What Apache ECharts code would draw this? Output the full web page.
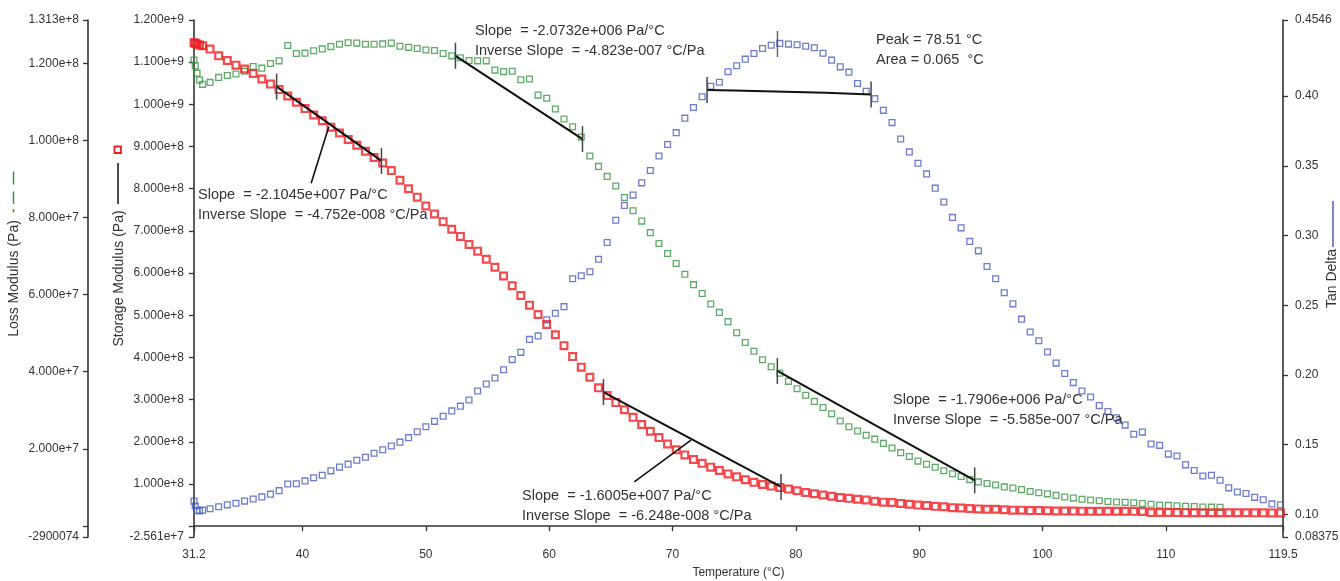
<!DOCTYPE html>
<html>
<head>
<meta charset="utf-8">
<title>DMA</title>
<script src="https://cdn.jsdelivr.net/npm/echarts@6/dist/echarts.min.js"></script>
<style>
  html, body { margin: 0; padding: 0; background: #fff; }
  #chart { width: 1340px; height: 581px; }
</style>
</head>
<body>
<div id="chart"></div>
<script>
// 温度 (°C)
const temps = [
  31.2, 31.3, 31.45, 31.65, 31.9, 32.5, 33.2, 33.9, 34.6, 35.3,
  36.0, 36.7, 37.4, 38.1, 38.8, 39.5, 40.2, 40.9, 41.6, 42.3,
  43.0, 43.7, 44.4, 45.1, 45.8, 46.5, 47.2, 47.9, 48.6, 49.3,
  50.0, 50.7, 51.4, 52.1, 52.8, 53.5, 54.2, 54.9, 55.6, 56.3,
  57.0, 57.7, 58.4, 59.1, 59.8, 60.5, 61.2, 61.9, 62.6, 63.3,
  64.0, 64.7, 65.4, 66.1, 66.8, 67.5, 68.2, 68.9, 69.6, 70.3,
  71.0, 71.7, 72.4, 73.1, 73.8, 74.5, 75.2, 75.9, 76.6, 77.3,
  78.0, 78.7, 79.4, 80.1, 80.8, 81.5, 82.2, 82.9, 83.6, 84.3,
  85.0, 85.7, 86.4, 87.1, 87.8, 88.5, 89.2, 89.9, 90.6, 91.3,
  92.0, 92.7, 93.4, 94.1, 94.8, 95.5, 96.2, 96.9, 97.6, 98.3,
  99.0, 99.7, 100.4, 101.1, 101.8, 102.5, 103.2, 103.9, 104.6, 105.3,
  106.0, 106.7, 107.4, 108.1, 108.8, 109.5, 110.2, 110.9, 111.6, 112.3,
  113.0, 113.7, 114.4, 115.1, 115.8, 116.5, 117.2, 117.9, 118.6, 119.3
];
// 储能模量 Storage Modulus (MPa)
const storageMPa = [
  1146, 1145, 1143, 1141, 1139, 1131, 1115, 1104, 1093, 1084,
  1073, 1060, 1048, 1035, 1020, 1005, 990, 975, 961, 946,
  932, 917, 903, 889, 874, 861, 843, 820, 800, 780,
  759, 740, 722, 704, 687, 668, 652, 633, 614, 593,
  570, 547, 524, 502, 478, 454, 428, 402, 377, 353,
  328, 310, 293, 276, 258, 241, 225, 210, 195, 181,
  169, 158, 149, 140, 132, 124, 117, 110, 104, 99,
  95, 92, 88, 84, 80, 77, 74, 71, 68, 66,
  64, 62, 59, 57, 56, 54, 52, 50, 49, 47,
  46, 44, 43, 42, 41, 40, 40, 39, 38, 38,
  37, 37, 36.5, 36, 36, 35.8, 35.7, 35.6, 35.5, 35.5,
  35.4, 35.3, 35.2, 35, 32.6, 32.4, 32.3, 32.2, 32.1, 32,
  32, 31.9, 31.8, 31.8, 31.7, 31.7, 31.6, 31.6, 31.5, 31.5
];
// 损耗模量 Loss Modulus (MPa)
const lossMPa = [
  120.9, 119.4, 117.5, 115.7, 114.6, 115.1, 116.4, 116.9, 117.3, 118.0,
  119.2, 118.8, 120.0, 120.7, 124.7, 122.6, 122.7, 123.3, 123.8, 124.4,
  125.0, 125.4, 125.3, 125.0, 125.0, 125.1, 125.3, 124.5, 124.2, 123.9,
  123.5, 123.4, 122.6, 122.0, 121.5, 120.8, 120.7, 120.7, 118.3, 117.9,
  118.0, 115.8, 116.0, 111.8, 111.0, 108.2, 105.6, 103.6, 100.9, 96.0,
  93.3, 90.7, 88.2, 85.2, 81.8, 79.1, 76.1, 73.3, 70.7, 68.1,
  65.3, 62.6, 60.3, 57.6, 55.4, 53.0, 50.1, 47.6, 45.3, 43.1,
  41.3, 39.6, 37.5, 35.6, 33.9, 32.3, 30.7, 29.1, 27.2, 25.7,
  24.6, 23.5, 22.5, 21.4, 20.2, 19.0, 18.0, 16.8, 16.0, 15.2,
  14.3, 13.5, 12.8, 12.0, 11.4, 11.0, 10.6, 10.1, 9.8, 9.4,
  8.9, 8.6, 8.3, 7.9, 7.5, 7.2, 6.9, 6.7, 6.5, 6.3,
  6.2, 6.1, 6.0, 5.8, 5.6, 5.4, 5.3, 5.2, 5.1, 5.0,
  4.9, 4.85, 4.8, null, null, null, null, null, null, null
];
// Tan Delta
const tanDelta = [
  0.1095, 0.1060, 0.1030, 0.1025, 0.1030, 0.1040, 0.1055, 0.1068, 0.1080, 0.1095,
  0.1110, 0.1125, 0.1145, 0.1170, 0.1218, 0.1220, 0.1240, 0.1262, 0.1280, 0.1312,
  0.1339, 0.1360, 0.1388, 0.1410, 0.1438, 0.1463, 0.1490, 0.1518, 0.1550, 0.1592,
  0.1628, 0.1667, 0.1704, 0.1742, 0.1776, 0.1820, 0.1885, 0.1935, 0.1978, 0.2037,
  0.2110, 0.2162, 0.2255, 0.2280, 0.2395, 0.2442, 0.2490, 0.2690, 0.2712, 0.2740,
  0.2830, 0.2950, 0.3110, 0.3215, 0.3290, 0.3378, 0.3466, 0.3570, 0.3653, 0.3738,
  0.3842, 0.3918, 0.3995, 0.4070, 0.4100, 0.4175, 0.4218, 0.4265, 0.4306, 0.4342,
  0.4365, 0.4378, 0.4373, 0.4368, 0.4358, 0.4347, 0.4307, 0.4258, 0.4210, 0.4172,
  0.4090, 0.4035, 0.3982, 0.3898, 0.3810, 0.3692, 0.3600, 0.3518, 0.3442, 0.3340,
  0.3240, 0.3130, 0.3055, 0.2958, 0.2890, 0.2778, 0.2690, 0.2590, 0.2510, 0.2400,
  0.2308, 0.2245, 0.2165, 0.2085, 0.2010, 0.1945, 0.1885, 0.1842, 0.1780, 0.1738,
  0.1692, 0.1640, 0.1575, 0.1590, 0.1505, 0.1495, 0.1432, 0.1418, 0.1355, 0.1315,
  0.1275, 0.1280, 0.1245, 0.1190, 0.1160, 0.1150, 0.1122, 0.1105, 0.1075, 0.1068
];

// 坐标轴刻度
const tempTicks = [31.2, 40, 50, 60, 70, 80, 90, 100, 110, 119.5];
const storageTicks = [-2.561e7, 0, 1e8, 2e8, 3e8, 4e8, 5e8, 6e8, 7e8, 8e8, 9e8, 1e9, 1.1e9, 1.2e9];
const storageLabels = [-2.561e7, 1e8, 2e8, 3e8, 4e8, 5e8, 6e8, 7e8, 8e8, 9e8, 1e9, 1.1e9, 1.2e9];
const lossTicks = [-2900074, 0, 2e7, 4e7, 6e7, 8e7, 1e8, 1.2e8, 1.313e8];
const lossLabels = [-2900074, 2e7, 4e7, 6e7, 8e7, 1e8, 1.2e8, 1.313e8];
const tanTicks = [0.08375, 0.10, 0.15, 0.20, 0.25, 0.30, 0.35, 0.40, 0.4546];
const tanTickText = ['0.08375', '0.10', '0.15', '0.20', '0.25', '0.30', '0.35', '0.40', '0.4546'];

// 拟合切线 (温度, MPa / tan)
const storageFit1 = [[37.9, 1042], [46.4, 866]];
const storageFit2 = [[64.4, 318], [78.8, 93]];
const lossFit1 = [[52.4, 122.0], [62.7, 100.4]];
const lossFit2 = [[78.5, 40.2], [94.5, 11.8]];
const tanBaseline = [[72.8, 0.4043], [75.0, 0.4040], [75.0, 0.4026], [82.4, 0.4024], [82.4, 0.4012], [86.1, 0.4012]];
const tanPeak = [78.51, 0.4374];
// 引线
const leader1 = [[42.13, 947], [40.7, 813]];
const leader2 = [[71.5, 204], [66.9, 105]];

const RED = '#ee1d23';
const GREEN = '#3a9343';
const BLUE = '#4a5cbc';
const TXT = '#333';
const FONT = '"Liberation Sans", Arial, sans-serif';

const myChart = echarts.init(document.getElementById('chart'));

const mpa = pts => pts.map(p => [p[0], p[1] * 1e6]);

function axisBase() {
  return {
    axisLine: { show: true, lineStyle: { color: '#333', width: 1.6 } },
    splitLine: { show: false },
    nameTextStyle: { color: TXT, fontSize: 14, fontFamily: FONT },
    nameMoveOverlap: false
  };
}

function tickOpt(values) {
  return { show: true, length: 5, customValues: values, lineStyle: { color: '#333', width: 1.3 } };
}

// 切线，两端竖线作为端点标记
function fitSeries(pts, yIdx) {
  return {
    type: 'line',
    yAxisIndex: yIdx,
    data: pts.map((p, i) => ({
      value: p,
      symbol: (i === 0 || i === pts.length - 1) ? 'rect' : 'none'
    })),
    symbolSize: [1.5, 26],
    itemStyle: { color: '#444', borderWidth: 0 },
    lineStyle: { color: '#111', width: 2 },
    silent: true,
    z: 5
  };
}

function leaderSeries(pts) {
  return {
    type: 'line',
    yAxisIndex: 0,
    data: pts,
    symbol: 'none',
    lineStyle: { color: '#111', width: 1.6 },
    silent: true,
    z: 5
  };
}

function noteText(x, y, text) {
  return {
    type: 'text',
    x: x,
    y: y,
    style: {
      text: text,
      fill: TXT,
      font: '14.5px ' + FONT,
      lineHeight: 20,
      verticalAlign: 'top'
    },
    z: 10
  };
}

const option = {
  backgroundColor: '#fff',
  animation: false,
  grid: {
    left: 194,
    right: 57,
    top: 20,
    bottom: 44,
    containLabel: false,
    outerBoundsMode: 'none'
  },
  xAxis: Object.assign(axisBase(), {
    type: 'value',
    min: 31.2,
    max: 119.5,
    name: 'Temperature (°C)',
    nameLocation: 'middle',
    nameGap: 30,
    nameTextStyle: { color: TXT, fontSize: 12, fontFamily: FONT },
    axisTick: tickOpt(tempTicks),
    axisLabel: {
      customValues: tempTicks,
      color: TXT,
      fontSize: 12,
      fontFamily: FONT,
      margin: 12,
      formatter: v => String(v)
    }
  }),
  yAxis: [
    Object.assign(axisBase(), {
      type: 'value',
      position: 'left',
      offset: 0,
      min: storageTicks[0],
      max: storageTicks[storageTicks.length - 1],
      name: 'Storage Modulus (Pa)',
      nameLocation: 'middle',
      nameGap: 68,
      axisTick: tickOpt(storageTicks),
      axisLabel: {
        customValues: storageLabels,
        color: TXT,
        fontSize: 12,
        fontFamily: FONT,
        margin: 10,
        formatter: v => v.toExponential(3)
      }
    }),
    Object.assign(axisBase(), {
      type: 'value',
      position: 'left',
      offset: 106,
      min: lossTicks[0],
      max: lossTicks[lossTicks.length - 1],
      name: 'Loss Modulus (Pa)',
      nameLocation: 'middle',
      nameGap: 67,
      axisTick: tickOpt(lossTicks),
      axisLabel: {
        customValues: lossLabels,
        color: TXT,
        fontSize: 12,
        fontFamily: FONT,
        margin: 9,
        formatter: v => (v === lossTicks[0] ? String(v) : v.toExponential(3))
      }
    }),
    Object.assign(axisBase(), {
      type: 'value',
      position: 'right',
      offset: 0,
      min: tanTicks[0],
      max: tanTicks[tanTicks.length - 1],
      name: 'Tan Delta',
      nameLocation: 'middle',
      nameGap: 42,
      axisTick: tickOpt(tanTicks),
      axisLabel: {
        customValues: tanTicks,
        color: TXT,
        fontSize: 12,
        fontFamily: FONT,
        margin: 12,
        formatter: v => {
          const i = tanTicks.findIndex(t => Math.abs(t - v) < 1e-9);
          return i >= 0 ? tanTickText[i] : '';
        }
      }
    })
  ],
  series: [
    {
      name: 'Tan Delta',
      type: 'scatter',
      yAxisIndex: 2,
      data: temps.map((t, i) => [t, tanDelta[i]]),
      symbol: 'rect',
      symbolSize: 5.8,
      itemStyle: { color: 'rgba(255,255,255,0)', borderColor: BLUE, borderWidth: 1.3 },
      silent: true,
      z: 2
    },
    {
      name: 'Loss Modulus',
      type: 'scatter',
      yAxisIndex: 1,
      data: temps.map((t, i) => [t, lossMPa[i]]).filter(p => p[1] != null).map(p => [p[0], p[1] * 1e6]),
      symbol: 'rect',
      symbolSize: 5.8,
      itemStyle: { color: 'rgba(255,255,255,0)', borderColor: GREEN, borderWidth: 1.3 },
      silent: true,
      z: 3
    },
    {
      name: 'Storage Modulus',
      type: 'scatter',
      yAxisIndex: 0,
      data: temps.map((t, i) => [t, storageMPa[i] * 1e6]),
      symbol: 'rect',
      symbolSize: 6.8,
      itemStyle: { color: 'rgba(255,255,255,0)', borderColor: RED, borderWidth: 2.2 },
      silent: true,
      z: 4
    },
    fitSeries(mpa(storageFit1), 0),
    fitSeries(mpa(storageFit2), 0),
    fitSeries(mpa(lossFit1), 1),
    fitSeries(mpa(lossFit2), 1),
    fitSeries(tanBaseline, 2),
    {
      type: 'scatter',
      yAxisIndex: 2,
      data: [tanPeak],
      symbol: 'rect',
      symbolSize: [1.5, 26],
      itemStyle: { color: '#444' },
      silent: true,
      z: 5
    },
    leaderSeries(mpa(leader1)),
    leaderSeries(mpa(leader2))
  ],
  graphic: [
    // 轴标题旁的图例符号
    { type: 'rect', shape: { x: 114.5, y: 146.5, width: 6.5, height: 6.5 }, style: { fill: '#fff', stroke: RED, lineWidth: 1.8 } },
    { type: 'line', shape: { x1: 118, y1: 163, x2: 118, y2: 204 }, style: { stroke: '#111', lineWidth: 1.5 } },
    { type: 'line', shape: { x1: 13.5, y1: 171.5, x2: 13.5, y2: 184.5 }, style: { stroke: GREEN, lineWidth: 1.5 } },
    { type: 'line', shape: { x1: 13.5, y1: 191.5, x2: 13.5, y2: 204 }, style: { stroke: GREEN, lineWidth: 1.5 } },
    { type: 'line', shape: { x1: 13.5, y1: 209, x2: 13.5, y2: 212.5 }, style: { stroke: GREEN, lineWidth: 1.5 } },
    { type: 'line', shape: { x1: 1333, y1: 201, x2: 1333, y2: 247 }, style: { stroke: BLUE, lineWidth: 1.5 } },
    // 注释文字
    noteText(198, 185, 'Slope  = -2.1045e+007 Pa/°C\nInverse Slope  = -4.752e-008 °C/Pa'),
    noteText(475, 20.5, 'Slope  = -2.0732e+006 Pa/°C\nInverse Slope  = -4.823e-007 °C/Pa'),
    noteText(876, 29.5, 'Peak = 78.51 °C\nArea = 0.065  °C'),
    noteText(522, 485.5, 'Slope  = -1.6005e+007 Pa/°C\nInverse Slope  = -6.248e-008 °C/Pa'),
    noteText(893, 389.5, 'Slope  = -1.7906e+006 Pa/°C\nInverse Slope  = -5.585e-007 °C/Pa')
  ]
};

option && myChart.setOption(option);
window.addEventListener('resize', () => {
  myChart.resize();
});
</script>
</body>
</html>
